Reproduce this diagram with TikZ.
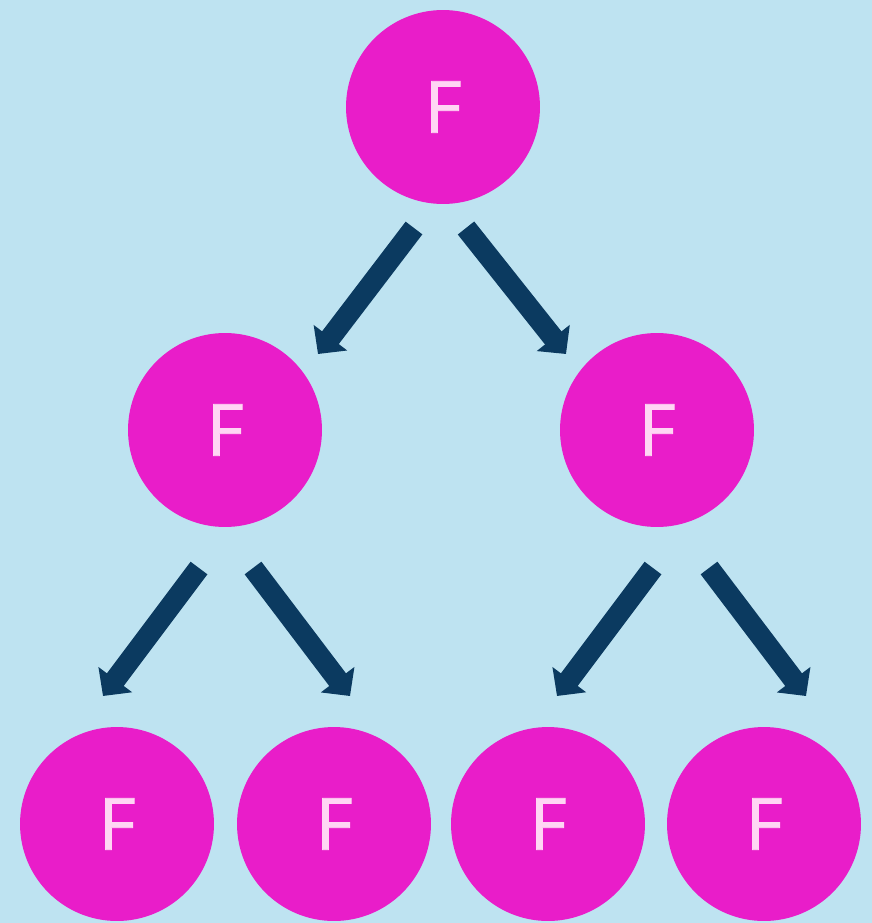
\documentclass[tikz,border=0pt]{standalone}
\usepackage{fontspec}
\setmainfont{Open Sans}[FakeBold=1]
\usetikzlibrary{arrows.meta}
\definecolor{bgblue}{HTML}{BEE3F1}
\definecolor{nodepink}{HTML}{E91DC9}
\definecolor{arrownavy}{HTML}{0B3A60}
\definecolor{letterpink}{HTML}{FFD6F4}
\begin{document}
\begin{tikzpicture}[x=0.02cm,y=-0.02cm,
  fnode/.style={circle,fill=nodepink,minimum size=3.88cm,inner sep=0pt,
    text=letterpink,font=\fontsize{41}{44}\selectfont},
  link/.style={draw=arrownavy,line width=0.42cm,
    -{Triangle[angle=90:0.58cm]}}]
  % canvas
  \fill[bgblue] (0,0) rectangle (872,923);
  \useasboundingbox (0,0) rectangle (872,923);
  % tree nodes
  \node[fnode] (root) at (443,107) {F};
  \node[fnode] (l)  at (225,430) {F};
  \node[fnode] (r)  at (657,430) {F};
  \node[fnode] (ll) at (117,824) {F};
  \node[fnode] (lr) at (334,824) {F};
  \node[fnode] (rl) at (548,824) {F};
  \node[fnode] (rr) at (764,824) {F};
  % arrow end points
  \coordinate (rootA) at (414,228);  \coordinate (lTip)  at (318,354);
  \coordinate (rootB) at (466,228);  \coordinate (rTip)  at (566,354);
  \coordinate (lA) at (199,568);     \coordinate (llTip) at (103,696);
  \coordinate (lB) at (253,568);     \coordinate (lrTip) at (350,696);
  \coordinate (rA) at (653,568);     \coordinate (rlTip) at (557,696);
  \coordinate (rB) at (709,568);     \coordinate (rrTip) at (806,696);
  % connectors
  \draw[link] (rootA) -- (lTip);
  \draw[link] (rootB) -- (rTip);
  \draw[link] (lA) -- (llTip);
  \draw[link] (lB) -- (lrTip);
  \draw[link] (rA) -- (rlTip);
  \draw[link] (rB) -- (rrTip);
\end{tikzpicture}
\end{document}
